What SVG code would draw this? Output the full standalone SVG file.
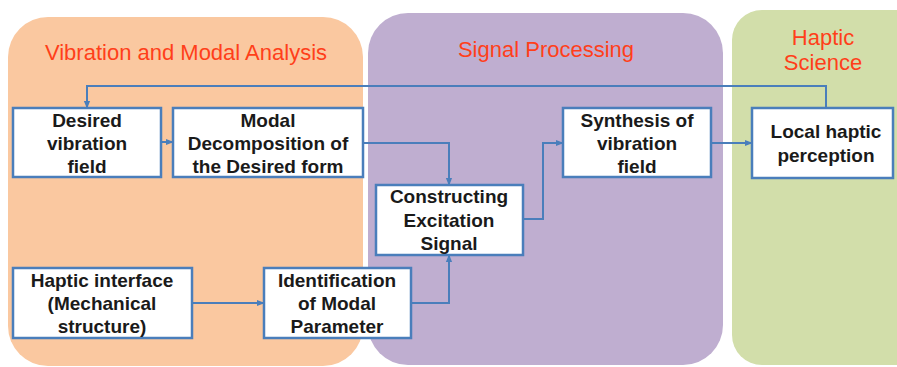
<svg xmlns="http://www.w3.org/2000/svg" width="897" height="367" viewBox="0 0 897 367">
<defs>
<style>
.panel-title{font-family:"Liberation Sans",Arial,sans-serif;font-size:22px;fill:#FF3F1A;text-anchor:middle}
.box{fill:#FFFFFF;stroke:#4A7EBB;stroke-width:2.5}
.lbl{font-family:"Liberation Sans",Arial,sans-serif;font-size:19px;font-weight:bold;fill:#1A1A1A;text-anchor:middle}
.conn{fill:none;stroke:#4A7EBB;stroke-width:2;marker-end:url(#ah)}
</style>
<marker id="ah" viewBox="0 0 10 10" refX="9" refY="5" markerWidth="4" markerHeight="4" orient="auto" markerUnits="strokeWidth">
<path d="M0,1 L10,5 L0,9 z" fill="#4A7EBB"/>
</marker>
</defs>
<rect width="897" height="367" fill="#FFFFFF"/>
<g id="panels">
<rect x="8" y="17" width="355" height="349" rx="40" fill="#FAC8A0"/>
<rect x="368" y="13" width="355" height="352" rx="40" fill="#BFAED0"/>
<rect x="732" y="10" width="200" height="355" rx="30" fill="#D2DEAA"/>
<text class="panel-title" x="186" y="60">Vibration and Modal Analysis</text>
<text class="panel-title" x="546" y="57">Signal Processing</text>
<text class="panel-title" x="823" y="45">Haptic</text>
<text class="panel-title" x="823" y="70">Science</text>
</g>
<g id="connectors">
<path class="conn" d="M161,142 H173"/>
<path class="conn" d="M363,143 H449 V185"/>
<path class="conn" d="M523,219 H543 V143 H563"/>
<path class="conn" d="M711,143 H752"/>
<path class="conn" d="M826,108 V86 H87 V108"/>
<path class="conn" d="M192,303 H264"/>
<path class="conn" d="M411,303 H449 V255"/>
</g>
<g id="desired">
<rect class="box" x="13" y="108" width="148" height="69"/>
<text class="lbl" x="87" y="127">Desired</text>
<text class="lbl" x="87" y="150">vibration</text>
<text class="lbl" x="87" y="173">field</text>
</g>
<g id="modal">
<rect class="box" x="173" y="108" width="190" height="69"/>
<text class="lbl" x="268" y="127">Modal</text>
<text class="lbl" x="268" y="150">Decomposition of</text>
<text class="lbl" x="268" y="173">the Desired form</text>
</g>
<g id="constructing">
<rect class="box" x="376" y="185" width="147" height="70"/>
<text class="lbl" x="449" y="203">Constructing</text>
<text class="lbl" x="449" y="227">Excitation</text>
<text class="lbl" x="449" y="250">Signal</text>
</g>
<g id="synthesis">
<rect class="box" x="563" y="108" width="148" height="69"/>
<text class="lbl" x="637" y="127">Synthesis of</text>
<text class="lbl" x="637" y="150">vibration</text>
<text class="lbl" x="637" y="173">field</text>
</g>
<g id="local">
<rect class="box" x="752" y="108" width="141" height="70"/>
<text class="lbl" x="826" y="138">Local haptic</text>
<text class="lbl" x="826" y="162">perception</text>
</g>
<g id="interface">
<rect class="box" x="13" y="268" width="179" height="70"/>
<text class="lbl" x="102" y="287">Haptic interface</text>
<text class="lbl" x="102" y="310">(Mechanical</text>
<text class="lbl" x="102" y="333">structure)</text>
</g>
<g id="identification">
<rect class="box" x="264" y="268" width="147" height="70"/>
<text class="lbl" x="337" y="287">Identification</text>
<text class="lbl" x="337" y="310">of Modal</text>
<text class="lbl" x="337" y="333">Parameter</text>
</g>
</svg>
